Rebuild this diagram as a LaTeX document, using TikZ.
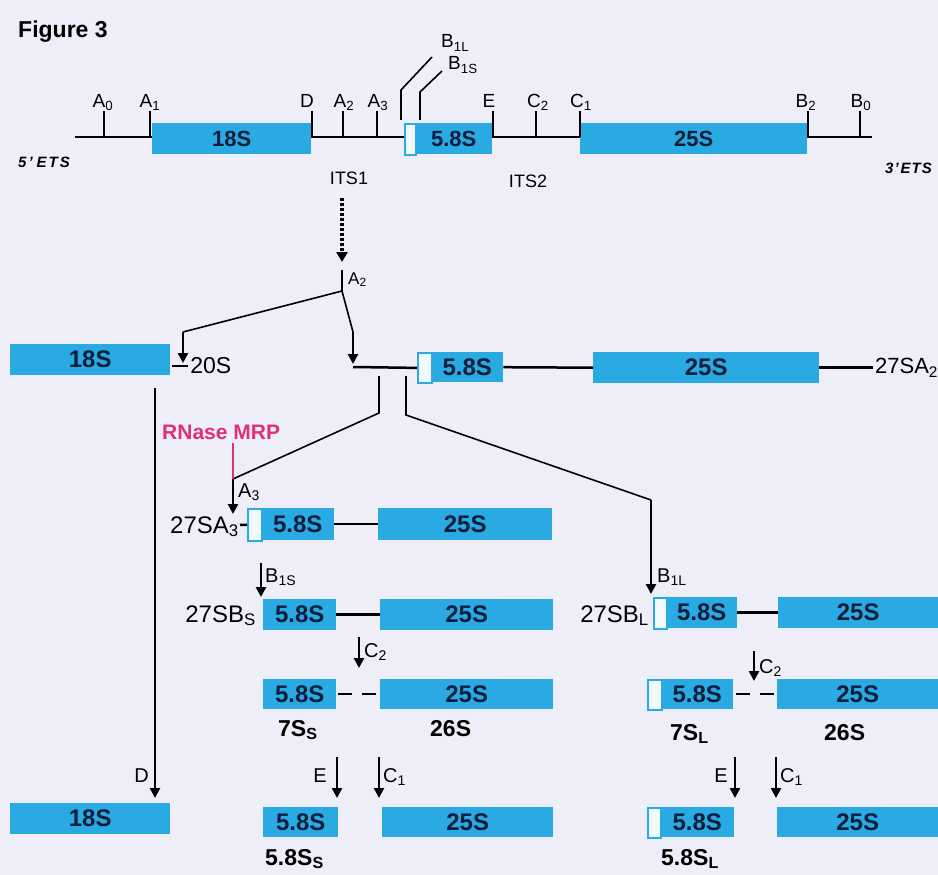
\documentclass[tikz,border=0pt]{standalone}
\usepackage{fontspec}
\setmainfont{Liberation Sans}
\usetikzlibrary{arrows.meta,calc}
\definecolor{bgc}{HTML}{EEEEF9}
\definecolor{rblue}{HTML}{2AAAE2}
\definecolor{navy}{HTML}{0D1E3C}
\definecolor{mrp}{HTML}{E0307A}
\definecolor{wfill}{HTML}{F2F9FD}
\newcommand\fs[1]{\fontsize{#1}{#1}\selectfont}
\newcommand\sbs[1]{\textsubscript{#1}}
\newcommand\bxn[6]{\node[bx, minimum width={(#4-#2)*1pt}, minimum height={(#5-#3)*1pt}] (#1) at (#2,#3) {#6};}
\newcommand\wbn[5]{\node[wb, minimum width={(#4-#2)*1pt}, minimum height={(#5-#3)*1pt}] (#1) at (#2,#3) {};}
\begin{document}
\begin{tikzpicture}[x=1pt,y=-1pt,
 bx/.style={rectangle, fill=rblue, inner sep=0pt, anchor=north west, text=navy, font=\bfseries\fs{24}},
 wb/.style={rectangle, fill=wfill, draw=rblue, line width=1.8pt, inner sep=0pt, anchor=north west},
 rna/.style={line width=2.5pt, black},
 tick/.style={line width=2pt},
 conn/.style={line width=1.6pt},
 arr/.style={line width=2.6pt, -{Triangle[width=10pt,length=10pt]}},
 lab/.style={inner sep=0pt, font=\fs{19}},
 slab/.style={inner sep=0pt, font=\fs{20}},
 mlab/.style={inner sep=0pt, font=\fs{24}},
 blab/.style={inner sep=0pt, font=\bfseries\fs{23}},
 ets/.style={inner sep=0pt, font=\bfseries\itshape\fs{15}},
]
\fill[bgc] (0,0) rectangle (938,875);
\useasboundingbox (0,0) rectangle (938,875);

\node[anchor=base west, inner sep=0pt, font=\bfseries\fs{23}] (fig) at (18,38) {Figure 3};

% ---- precursor
\coordinate (L0) at (75,137);
\coordinate (L1) at (872,137);
\draw[rna] (L0) -- (L1);
\begin{scope}[bx/.append style={font=\bfseries\fs{22}}]
\bxn{t18}{152}{123}{311}{154}{18S}
\wbn{tw}{404}{123}{415}{154}
\bxn{t58}{415}{123}{492}{154}{5.8S}
\bxn{t25}{580}{123}{807}{154}{25S}
\end{scope}

\foreach \nm/\x in {A0/104,A1/150,D/312,A2/343,A3/377,E/493,C2/536,C1/580,B2/808,B0/860}{
  \coordinate (k\nm) at (\x,137);
  \draw[tick] (k\nm) -- ++(0,-26);
}
\node[lab, anchor=base] at (103,107) {A\sbs{0}};
\node[lab, anchor=base] at (150,107) {A\sbs{1}};
\node[lab, anchor=base east] at (314,107) {D};
\node[lab, anchor=base] at (344,107) {A\sbs{2}};
\node[lab, anchor=base] at (378,107) {A\sbs{3}};
\node[lab, anchor=base] at (489,107) {E};
\node[lab, anchor=base] at (538,107) {C\sbs{2}};
\node[lab, anchor=base] at (581,107) {C\sbs{1}};
\node[lab, anchor=base] at (806,107) {B\sbs{2}};
\node[lab, anchor=base] at (861,107) {B\sbs{0}};

\coordinate (b1l) at (401,120);
\coordinate (b1s) at (420,120);
\draw[conn] (b1l) -- (401,90) -- (432,57);
\draw[conn] (b1s) -- (420,92) -- (442,71);
\node[lab, anchor=base west] at (441,48) {B\sbs{1L}};
\node[lab, anchor=base west] at (448,70) {B\sbs{1S}};

\node[ets, anchor=west] at (18,162) {5\kern2pt'\kern4pt E\kern2pt T\kern2pt S};
\node[ets, anchor=west] at (885,168) {3\kern1pt'\kern2pt E\kern1pt T\kern1pt S};
\node[inner sep=0pt, font=\fs{18}] (its1) at (349,178) {ITS1};
\node[inner sep=0pt, font=\fs{18}] (its2) at (528,181) {ITS2};

% ---- first cleavage
\coordinate (dA) at (342,198);
\coordinate (dB) at (342,262);
\draw[line width=3.8pt, dash pattern=on 3pt off 2pt, -{Triangle[width=11pt,length=10pt]}] (dA) -- (dB);
\coordinate (a2t) at (342,270);
\coordinate (a2s) at (342,291);
\draw[conn] (a2t) -- (a2s);
\node[inner sep=0pt, font=\fs{17}, anchor=base west] at (348,284) {A\sbs{2}};
\coordinate (c20) at (183,332);
\coordinate (c27) at (353,332);
\draw[conn] (a2s) -- (c20);
\draw[arr] (c20) -- (183,363);
\draw[conn] (a2s) -- (c27);
\draw[arr] (c27) -- (353,364);

% ---- row 2
\bxn{r18}{10}{344}{170}{375}{18S}
\coordinate (s20) at (172,366);
\draw[rna] (s20) -- ++(16,0) node[anchor=west, inner sep=1pt, font=\fs{23}] (l20) {20S};
\wbn{w2}{417}{352}{431}{382}
\bxn{b2a}{431}{352}{503}{382}{5.8S}
\bxn{b2b}{593}{352}{819}{383}{25S}
\coordinate (s2L) at (353,367);
\draw[rna] (s2L) -- (w2.west);
\draw[rna] (b2a.east) -- (b2b.west);
\draw[rna] (b2b.east) -- ++(54,0) node[anchor=west, inner sep=0.5pt, font=\fs{22}] (l27a2) {27SA\sbs{2}};

% ---- branch to A3 / B1L
\coordinate (p1) at (379,376);
\coordinate (p1k) at (233,479);
\draw[conn] (p1) -- (379,413) -- (p1k);
\draw[mrp, line width=1.6pt] (233,443) -- (p1k);
\node[anchor=base west, inner sep=0pt, text=mrp, font=\bfseries\fs{21}] (rmrp) at (162,439) {RNase MRP};
\draw[arr] (p1k) -- (233,514);
\node[slab, anchor=base west] at (238,497) {A\sbs{3}};

\coordinate (p2) at (406,376);
\coordinate (p2k) at (651,500);
\draw[conn] (p2) -- (406,415) -- (p2k);
\draw[arr] (p2k) -- (651,594);

% ---- row 3
\node[mlab, anchor=base east] (l27a3) at (239,533) {27SA\sbs{3}};
\wbn{w3}{247}{508}{261}{540}
\bxn{b3a}{261}{508}{334}{540}{5.8S}
\bxn{b3b}{378}{508}{552}{540}{25S}
\draw[rna] (240,525) -- (w3.west);
\draw[rna] (b3a.east) -- (b3b.west);

% ---- row 4
\coordinate (k1s) at (261,563);
\draw[arr] (k1s) -- (261,597);
\node[slab, anchor=base west] at (265,582) {B\sbs{1S}};
\node[mlab, anchor=base east] (l27bs) at (256,622) {27SB\sbs{S}};
\bxn{b4a}{263}{599}{336}{630}{5.8S}
\bxn{b4b}{380}{599}{553}{630}{25S}
\draw[rna] (b4a.east) -- (b4b.west);

\node[slab, anchor=base west] at (657,582) {B\sbs{1L}};
\node[mlab, anchor=base east] (l27bl) at (649,622) {27SB\sbs{L}};
\wbn{w4}{653}{597}{666}{628}
\bxn{b4c}{666}{597}{737}{628}{5.8S}
\bxn{b4d}{778}{597}{938}{628}{25S}
\draw[rna] (b4c.east) -- (b4d.west);

% ---- row 5
\coordinate (kc2a) at (359,637);
\draw[arr] (kc2a) -- (359,668);
\node[slab, anchor=base west] at (364,657) {C\sbs{2}};
\bxn{b5a}{263}{679}{336}{709}{5.8S}
\bxn{b5b}{380}{679}{553}{709}{25S}
\draw[rna, dash pattern=on 14pt off 10pt, shorten <=2pt, shorten >=2pt] (b5a.east) -- (b5b.west);
\node[blab, anchor=base west] at (278,736) {7S\sbs{S}};
\node[blab, anchor=base west] at (430,736) {26S};

\coordinate (kc2b) at (754,651);
\draw[arr] (kc2b) -- (754,681);
\node[slab, anchor=base west] at (759,673) {C\sbs{2}};
\wbn{w5}{647}{679}{661}{709}
\bxn{b5c}{661}{679}{733}{709}{5.8S}
\bxn{b5d}{777}{679}{938}{709}{25S}
\draw[rna, dash pattern=on 14pt off 10pt, shorten <=3pt, shorten >=2pt] (b5c.east) -- (b5d.west);
\node[blab, anchor=base west] at (670,740) {7S\sbs{L}};
\node[blab, anchor=base west] at (824,740) {26S};

% ---- row 6
\coordinate (kd) at (155,388);
\draw[arr] (kd) -- (155,798);
\node[slab, anchor=base east] at (149,782) {D};
\bxn{b6a}{10}{803}{170}{834}{18S}

\coordinate (kea) at (337,757);
\coordinate (kc1a) at (379,757);
\draw[arr] (kea) -- (337,798);
\draw[arr] (kc1a) -- (379,798);
\node[slab, anchor=base east] at (327,782) {E};
\node[slab, anchor=base west] at (383,782) {C\sbs{1}};
\bxn{b6b}{263}{807}{338}{837}{5.8S}
\bxn{b6c}{382}{807}{553}{837}{25S}
\node[blab, anchor=base west] at (265,865) {5.8S\sbs{S}};

\coordinate (keb) at (735,757);
\coordinate (kc1b) at (776,757);
\draw[arr] (keb) -- (735,798);
\draw[arr] (kc1b) -- (776,798);
\node[slab, anchor=base east] at (728,782) {E};
\node[slab, anchor=base west] at (780,782) {C\sbs{1}};
\wbn{w6}{647}{807}{660}{837}
\bxn{b6d}{660}{807}{734}{837}{5.8S}
\bxn{b6e}{777}{807}{938}{837}{25S}
\node[blab, anchor=base west] at (661,865) {5.8S\sbs{L}};
\end{tikzpicture}
\end{document}
